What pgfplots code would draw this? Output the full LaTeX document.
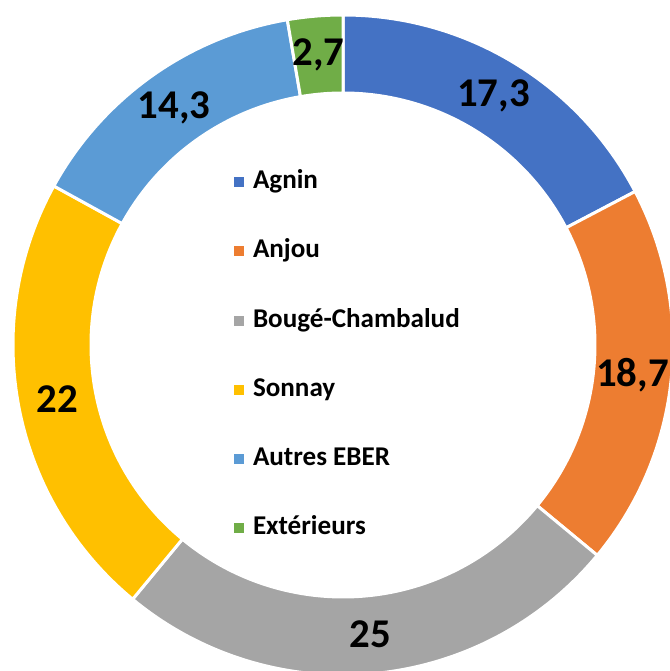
\documentclass[border=0pt]{standalone}
\usepackage{pgfplots}
\pgfplotsset{compat=1.18}
\usepackage{fontspec}
\setmainfont{Carlito}
\definecolor{cAgnin}{HTML}{4472C4}
\definecolor{cAnjou}{HTML}{ED7D31}
\definecolor{cBouge}{HTML}{A5A5A5}
\definecolor{cSonnay}{HTML}{FFC000}
\definecolor{cAutres}{HTML}{5B9BD5}
\definecolor{cExt}{HTML}{70AD47}
% data (percent)
\def\vA{17.3}
\def\vB{18.7}
\def\vC{25}
\def\vD{22}
\def\vE{14.3}
\def\vF{2.7}
\newcommand\labfont{\fontsize{20.5}{24}\selectfont\bfseries}
\newcommand\sector[4]{%
  \pgfmathsetmacro\aS{90-3.6*(#1)}%
  \pgfmathsetmacro\aE{90-3.6*(#2)}%
  \pgfmathsetmacro\aM{(\aS+\aE)/2}%
  \edef\temp{\noexpand\fill[#3, draw=white, line width=1.5bp]
    ({330*cos(\aS)},{330*sin(\aS)}) arc[start angle=\aS, end angle=\aE, radius=165bp]
    -- ({252*cos(\aE)},{252*sin(\aE)}) arc[start angle=\aE, end angle=\aS, radius=126bp] -- cycle;
    \noexpand\node[font=\noexpand\labfont, inner sep=0pt] at ({291*cos(\aM)},{291*sin(\aM)}) {#4};}%
  \temp}
\begin{document}
\begin{tikzpicture}
\begin{axis}[
  x=0.5bp, y=0.5bp,
  xmin=-343, xmax=327, ymin=-326, ymax=345,
  hide axis, clip=true,
  legend cell align=left,
  legend image code/.code={\fill[#1] (0bp,-2.5bp) rectangle (5bp,2.5bp);},
  legend style={draw=none, fill=none, inner sep=0pt, outer sep=0pt,
    at={(axis cs:-109,175)}, anchor=north west,
    font=\fontsize{13.6}{16}\selectfont\bfseries,
    row sep=22bp,
    nodes={inner sep=0pt, text height=9.5bp, text depth=3bp},
    /tikz/every odd column/.append style={column sep=4.5bp}},
]
\coordinate (ll) at (rel axis cs:0,0);
\coordinate (ur) at (rel axis cs:1,1);
\sector{0}{\vA}{cAgnin}{17,3}
\sector{\vA}{\vA+\vB}{cAnjou}{18,7}
\sector{\vA+\vB}{\vA+\vB+\vC}{cBouge}{25}
\sector{\vA+\vB+\vC}{\vA+\vB+\vC+\vD}{cSonnay}{22}
\sector{\vA+\vB+\vC+\vD}{\vA+\vB+\vC+\vD+\vE}{cAutres}{14,3}
\sector{\vA+\vB+\vC+\vD+\vE}{100}{cExt}{2,7}
\addlegendimage{fill=cAgnin, draw=none}\addlegendentry{Agnin}
\addlegendimage{fill=cAnjou, draw=none}\addlegendentry{Anjou}
\addlegendimage{fill=cBouge, draw=none}\addlegendentry{Bougé-Chambalud}
\addlegendimage{fill=cSonnay, draw=none}\addlegendentry{Sonnay}
\addlegendimage{fill=cAutres, draw=none}\addlegendentry{Autres EBER}
\addlegendimage{fill=cExt, draw=none}\addlegendentry{Extérieurs}
\end{axis}
\pgfresetboundingbox
\path (ll) rectangle (ur);
\end{tikzpicture}
\end{document}
